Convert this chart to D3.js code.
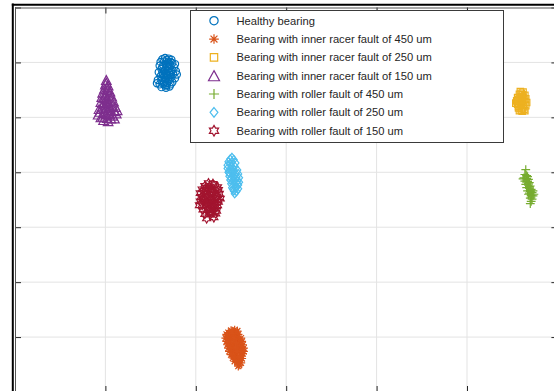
<!DOCTYPE html>
<html>
<head>
<meta charset="utf-8">
<script src="https://cdn.jsdelivr.net/npm/d3@7"></script>
<style>
  html, body { margin: 0; padding: 0; background: #fff; }
  svg { display: block; }
</style>
</head>
<body>
<svg id="chart" width="554" height="391"></svg>
<script>
// Feature-space scatter of bearing conditions (two extracted features)

const seriesNames = [
  "Healthy bearing",
  "Bearing with inner racer fault of 450 um",
  "Bearing with inner racer fault of 250 um",
  "Bearing with inner racer fault of 150 um",
  "Bearing with roller fault of 450 um",
  "Bearing with roller fault of 250 um",
  "Bearing with roller fault of 150 um"
];
const seriesColors = ["#0072BD", "#D95319", "#EDB120", "#7E2F8E", "#77AC30", "#4DBEEE", "#A2142F"];
const seriesMarkers = ["circle", "asterisk", "square", "triangle", "plus", "diamond", "hexagram"];

const xTicks = [0, 1, 2, 3, 4, 5, 6];
const yTicks = [0, 1, 2, 3, 4, 5, 6, 7];

const healthy = [
  [1.63,6.06],[1.66,6.08],[1.70,6.07],[1.73,6.05],[1.61,6.01],[1.65,6.02],[1.69,6.00],[1.74,5.99],
  [1.77,5.97],[1.60,5.94],[1.64,5.95],[1.68,5.93],[1.72,5.94],[1.76,5.91],[1.62,5.88],[1.66,5.87],
  [1.70,5.89],[1.74,5.86],[1.78,5.84],[1.59,5.82],[1.63,5.81],[1.67,5.80],[1.71,5.82],[1.75,5.79],
  [1.61,5.75],[1.65,5.74],[1.69,5.76],[1.73,5.73],[1.77,5.71],[1.58,5.68],[1.62,5.67],[1.66,5.69],
  [1.70,5.66],[1.74,5.64],[1.60,5.60],[1.64,5.61],[1.68,5.59],[1.72,5.60],[1.62,5.55],[1.67,5.54],[1.71,5.56],
  [1.68,6.04],[1.72,6.01],[1.67,5.97],[1.71,5.97],[1.63,5.91],[1.70,5.92],[1.65,5.84],[1.69,5.85],
  [1.73,5.83],[1.64,5.78],[1.68,5.77],[1.72,5.77],[1.63,5.71],[1.67,5.72],[1.71,5.70],[1.65,5.64],
  [1.68,5.63],[1.66,5.58],[1.79,5.78],[1.57,5.62]
];
const inner450 = [
  [2.39,1.12],[2.43,1.13],[2.36,1.08],[2.40,1.07],[2.44,1.09],[2.47,1.05],[2.35,1.02],[2.38,1.01],
  [2.42,1.03],[2.46,1.00],[2.36,0.96],[2.40,0.95],[2.44,0.97],[2.48,0.94],[2.37,0.90],[2.41,0.89],
  [2.45,0.91],[2.49,0.88],[2.38,0.84],[2.42,0.83],[2.46,0.85],[2.50,0.82],[2.39,0.78],[2.43,0.77],
  [2.47,0.79],[2.51,0.76],[2.40,0.72],[2.44,0.71],[2.48,0.73],[2.52,0.70],[2.42,0.66],[2.46,0.65],
  [2.50,0.67],[2.44,0.60],[2.48,0.59],[2.51,0.61],[2.46,0.54],[2.50,0.53],[2.48,0.49],
  [2.34,1.05],[2.33,0.98],[2.34,0.92],[2.35,0.86],[2.36,0.80],[2.37,0.74],[2.39,0.68],[2.41,0.62],
  [2.43,0.56],[2.53,0.74],[2.53,0.80],[2.52,0.86],[2.51,0.92],[2.50,0.98],[2.42,0.98],[2.45,0.86],
  [2.44,0.80],[2.46,0.74],[2.48,0.64],[2.40,1.10],[2.46,1.11],[2.47,0.47]
];
const inner250 = [
  [5.59,5.47],[5.62,5.46],[5.58,5.42],[5.61,5.41],[5.64,5.40],[5.56,5.36],[5.59,5.35],[5.62,5.36],
  [5.65,5.34],[5.55,5.30],[5.58,5.29],[5.61,5.30],[5.64,5.28],[5.66,5.27],[5.56,5.24],[5.59,5.23],
  [5.62,5.22],[5.65,5.21],[5.57,5.17],[5.60,5.16],[5.63,5.15],[5.58,5.12],[5.61,5.11],[5.64,5.12],
  [5.60,5.44],[5.60,5.38],[5.63,5.32],[5.60,5.26],[5.57,5.20],[5.62,5.19],[5.60,5.13],[5.57,5.33],[5.54,5.26]
];
const inner150 = [
  [1.01,5.68],[1.00,5.60],[1.03,5.58],[0.99,5.52],[1.02,5.50],[1.05,5.47],[0.97,5.45],[1.00,5.43],
  [1.04,5.41],[1.07,5.38],[0.96,5.37],[0.99,5.35],[1.02,5.33],[1.06,5.31],[1.09,5.29],[0.95,5.28],
  [0.98,5.26],[1.01,5.25],[1.04,5.23],[1.08,5.21],[1.11,5.19],[0.96,5.18],[1.00,5.16],[1.03,5.14],
  [1.06,5.13],[1.10,5.11],[0.94,5.10],[0.98,5.08],[1.01,5.06],[1.05,5.05],[1.08,5.03],[0.97,5.01],
  [1.02,4.99],[1.06,4.98],[1.03,4.93],
  [0.93,5.15],[0.92,5.05],[1.12,5.07],[1.13,5.13],[0.95,5.00],[1.10,4.98],[1.00,5.40],[1.03,5.28],
  [1.05,5.18],[0.99,5.20],[1.04,5.08],[0.98,4.95],[1.02,5.55],[1.01,5.63]
];
const roller450 = [
  [5.65,4.05],[5.64,3.96],[5.66,3.94],[5.63,3.90],[5.66,3.89],[5.68,3.87],[5.64,3.84],[5.67,3.83],
  [5.69,3.81],[5.65,3.78],[5.68,3.77],[5.70,3.75],[5.66,3.72],[5.69,3.71],[5.71,3.69],[5.67,3.66],
  [5.70,3.65],[5.72,3.63],[5.68,3.60],[5.71,3.58],[5.73,3.57],[5.70,3.53],[5.72,3.51],[5.71,3.47],[5.70,3.43],
  [5.67,3.92],[5.67,3.86],[5.68,3.80],[5.69,3.74],[5.70,3.68],[5.69,3.62],[5.71,3.55],[5.62,3.88],
  [5.74,3.60],[5.73,3.66]
];
const roller250 = [
  [2.40,4.27],[2.38,4.24],[2.42,4.23],[2.36,4.19],[2.40,4.18],[2.44,4.17],[2.35,4.13],[2.39,4.12],
  [2.43,4.11],[2.35,4.07],[2.38,4.06],[2.42,4.05],[2.46,4.04],[2.36,4.00],[2.40,3.99],[2.44,3.98],
  [2.47,3.97],[2.37,3.93],[2.41,3.92],[2.45,3.91],[2.48,3.90],[2.38,3.86],[2.42,3.85],[2.46,3.84],
  [2.48,3.82],[2.39,3.79],[2.43,3.78],[2.47,3.77],[2.40,3.72],[2.44,3.71],[2.47,3.70],[2.42,3.66],
  [2.45,3.65],[2.43,3.61],
  [2.40,4.09],[2.41,4.02],[2.43,3.95],[2.44,3.88],[2.45,3.81],[2.44,3.74],[2.41,3.69],[2.38,4.16],
  [2.37,3.99],[2.39,3.89]
];
const roller150 = [
  [2.14,3.80],[2.19,3.79],[2.10,3.75],[2.15,3.74],[2.20,3.76],[2.24,3.73],[2.07,3.69],[2.11,3.68],
  [2.16,3.70],[2.21,3.67],[2.25,3.68],[2.05,3.62],[2.09,3.63],[2.13,3.61],[2.18,3.62],[2.22,3.60],
  [2.26,3.61],[2.06,3.55],[2.10,3.54],[2.14,3.56],[2.19,3.53],[2.23,3.55],[2.27,3.52],[2.05,3.47],
  [2.09,3.48],[2.13,3.46],[2.17,3.47],[2.21,3.45],[2.25,3.46],[2.07,3.40],[2.11,3.39],[2.16,3.41],
  [2.20,3.38],[2.24,3.40],[2.08,3.32],[2.13,3.31],[2.18,3.33],[2.23,3.30],[2.10,3.24],[2.16,3.23],
  [2.22,3.25],[2.12,3.16],[2.20,3.18],
  [2.12,3.72],[2.17,3.65],[2.11,3.58],[2.16,3.50],[2.12,3.43],[2.19,3.43],[2.14,3.36],[2.21,3.35],
  [2.15,3.28],[2.08,3.52],[2.24,3.50],[2.04,3.40],[2.19,3.27]
];
const seriesData = [healthy, inner450, inner250, inner150, roller450, roller250, roller150];

// ---- layout ----
const svg = d3.select("#chart");
const plot = { left: 15, right: 557.4, top: 7.5, bottom: 392 };

const x = d3.scaleLinear().domain([0, 6]).range([plot.left, plot.right]);
const y = d3.scaleLinear().domain([0, 7]).range([plot.bottom, plot.top]);

svg.append("defs").append("clipPath").attr("id", "plotClip")
  .append("rect")
  .attr("x", plot.left).attr("y", plot.top)
  .attr("width", plot.right - plot.left).attr("height", plot.bottom - plot.top);

// grid
const grid = svg.append("g").attr("class", "grid");
grid.selectAll("line.vx").data(xTicks.slice(1, -1)).join("line")
  .attr("x1", d => x(d)).attr("x2", d => x(d))
  .attr("y1", plot.top).attr("y2", plot.bottom)
  .attr("stroke", "#e3e3e3").attr("stroke-width", 1);
grid.selectAll("line.hy").data(yTicks.slice(1, -1)).join("line")
  .attr("y1", d => y(d)).attr("y2", d => y(d))
  .attr("x1", plot.left).attr("x2", plot.right)
  .attr("stroke", "#e3e3e3").attr("stroke-width", 1);

// marker path builders
function markerPath(type, k = 1) {
  switch (type) {
    case "circle": {
      const r = 3.6 * k;
      return `M${r},0A${r},${r} 0 1,1 ${-r},0A${r},${r} 0 1,1 ${r},0Z`;
    }
    case "asterisk": {
      const a = 4.2 * k, b = 3.0 * k;
      return `M${-a},0L${a},0M0,${-a}L0,${a}M${-b},${-b}L${b},${b}M${-b},${b}L${b},${-b}`;
    }
    case "square": {
      const s = 3.2 * k;
      return `M${-s},${-s}L${s},${-s}L${s},${s}L${-s},${s}Z`;
    }
    case "triangle": {
      const h = 4.4 * k, w = 4.8 * k;
      return `M0,${-h}L${w},${h}L${-w},${h}Z`;
    }
    case "plus": {
      const a = 4.4 * k;
      return `M${-a},0L${a},0M0,${-a}L0,${a}`;
    }
    case "diamond": {
      const a = 4.2 * k, w = 3.4 * k;
      return `M0,${-a}L${w},0L0,${a}L${-w},0Z`;
    }
    case "hexagram": {
      const R = 4.6 * k, r = R / Math.sqrt(3);
      const pts = [];
      for (let i = 0; i < 12; i++) {
        const ang = -Math.PI / 2 + i * Math.PI / 6;
        const rad = i % 2 === 0 ? R : r;
        pts.push([rad * Math.cos(ang), rad * Math.sin(ang)]);
      }
      return "M" + pts.map(p => p[0].toFixed(2) + "," + p[1].toFixed(2)).join("L") + "Z";
    }
  }
}

// points
const marks = svg.append("g").attr("clip-path", "url(#plotClip)");
seriesData.forEach((data, i) => {
  marks.append("g")
    .selectAll("path").data(data).join("path")
    .attr("transform", d => `translate(${x(d[0])},${y(d[1])})`)
    .attr("d", markerPath(seriesMarkers[i]))
    .attr("fill", "none")
    .attr("stroke", seriesColors[i])
    .attr("stroke-width", 1.2);
});

// axes (ticks inward, no labels)
const axisColor = "#262626";
const tickLen = 6;
function styleAxis(g) {
  g.select(".domain").remove();
  g.selectAll(".tick line").attr("stroke", axisColor).attr("stroke-width", 1);
  g.selectAll(".tick text").remove();
}
svg.append("g").attr("transform", `translate(${plot.left},0)`)
  .call(d3.axisLeft(y).tickValues(yTicks).tickSize(-tickLen).tickFormat("")).call(styleAxis);
svg.append("g").attr("transform", `translate(${plot.right},0)`)
  .call(d3.axisRight(y).tickValues(yTicks).tickSize(-tickLen).tickFormat("")).call(styleAxis);
svg.append("g").attr("transform", `translate(0,${plot.top})`)
  .call(d3.axisTop(x).tickValues(xTicks).tickSize(-tickLen).tickFormat("")).call(styleAxis);
svg.append("g").attr("transform", `translate(0,${plot.bottom})`)
  .call(d3.axisBottom(x).tickValues(xTicks).tickSize(-tickLen).tickFormat("")).call(styleAxis);

// axes box
svg.append("rect")
  .attr("x", plot.left + 0.5).attr("y", plot.top + 0.5)
  .attr("width", plot.right - plot.left).attr("height", plot.bottom - plot.top)
  .attr("fill", "none").attr("stroke", "#555").attr("stroke-width", 1);

// outer frame
svg.append("line").attr("x1", 12.8).attr("x2", 12.8).attr("y1", 3.5).attr("y2", 391)
  .attr("stroke", "#000").attr("stroke-width", 2);
svg.append("line").attr("x1", 11.8).attr("x2", 554).attr("y1", 4.8).attr("y2", 4.8)
  .attr("stroke", "#000").attr("stroke-width", 2);

// legend
const legend = svg.append("g");
const lg = { x: 190.5, y: 10.5, w: 313, h: 132 };
legend.append("rect")
  .attr("x", lg.x).attr("y", lg.y).attr("width", lg.w).attr("height", lg.h)
  .attr("fill", "#fff").attr("stroke", "#3a3a3a").attr("stroke-width", 1);
const rowY = i => 20.7 + i * 18.33;
const rows = legend.selectAll("g.item").data(seriesNames).join("g").attr("class", "item");
rows.append("path")
  .attr("transform", (d, i) => `translate(214,${rowY(i)})`)
  .attr("d", (d, i) => markerPath(seriesMarkers[i], 1.15))
  .attr("fill", "none")
  .attr("stroke", (d, i) => seriesColors[i])
  .attr("stroke-width", 1.2);
rows.append("text")
  .attr("x", 236.5).attr("y", (d, i) => rowY(i))
  .attr("dy", "0.35em")
  .attr("font-family", "'Liberation Sans', Arial, Helvetica, sans-serif")
  .attr("font-size", 11.2)
  .attr("fill", "#262626")
  .text(d => d);
</script>
</body>
</html>
